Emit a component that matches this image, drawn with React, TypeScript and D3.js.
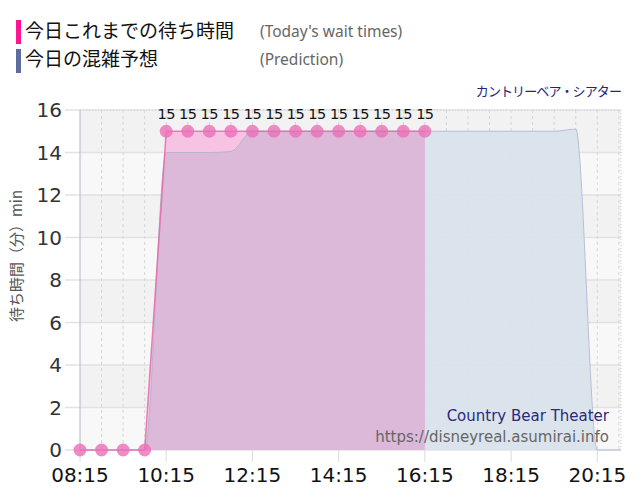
import React from "react";
import * as d3 from "d3";

const actualTimes = ["08:15","08:45","09:15","09:45","10:15","10:45","11:15","11:45","12:15","12:45","13:15","13:45","14:15","14:45","15:15","15:45","16:15"];
const actualValues = [0,0,0,0,15,15,15,15,15,15,15,15,15,15,15,15,15];

const predTimes = ["08:15","08:45","09:15","09:45","10:15","10:45","11:15","11:45","12:15","12:45","13:15","13:45","14:15","14:45","15:15","15:45","16:15","16:45","17:15","17:45","18:15","18:45","19:15","19:45","20:15","20:45","20:48"];
const predValues = [0,0,0,0,14,14,14,14.05,15,15,15,15,15,15,15,15,15,15,15,15,15,15,15,15.1,0,0,0];

const xTickLabels = ["08:15","10:15","12:15","14:15","16:15","18:15","20:15"];
const yTicks = [0,2,4,6,8,10,12,14,16];

const toMin = (s: string) => { const [h, m] = s.split(":").map(Number); return h * 60 + m; };

const W = 640, H = 500;
const L = 80, R = 621, T = 110, B = 450;

export default function App() {
  const x = d3.scaleLinear().domain([toMin("08:15"), toMin("20:48")]).range([L, R]);
  const y = d3.scaleLinear().domain([0, 16]).range([B, T]);

  const actual = actualTimes.map((t, i) => ({ t: toMin(t), v: actualValues[i] }));
  const pred = predTimes.map((t, i) => ({ t: toMin(t), v: predValues[i] }));

  const predArea = d3.area<{t:number;v:number}>().x(d => x(d.t)).y0(y(0)).y1(d => y(d.v)).curve(d3.curveMonotoneX)(pred) || "";
  const predLine = d3.line<{t:number;v:number}>().x(d => x(d.t)).y(d => y(d.v)).curve(d3.curveMonotoneX)(pred) || "";
  const actArea = d3.area<{t:number;v:number}>().x(d => x(d.t)).y0(y(0)).y1(d => y(d.v))(actual) || "";
  const actLine = d3.line<{t:number;v:number}>().x(d => x(d.t)).y(d => y(d.v))(actual) || "";

  const grid30: number[] = [];
  for (let m = toMin("08:15") + 30; m < toMin("20:48"); m += 30) grid30.push(m);

  const bands = d3.range(8).map(i => ({ lo: i * 2, hi: i * 2 + 2, dark: i % 2 === 1 }));

  const latin = "'DejaVu Sans', Verdana, sans-serif";
  const cjk = "'Noto Sans CJK JP', sans-serif";

  return (
    <svg width={W} height={H} style={{ position: "absolute", left: 0, top: 0, background: "#fff" }}>
      <defs>
        <clipPath id="predClip"><path d={predArea} /></clipPath>
      </defs>
      {/* Legend */}
      <rect x={16} y={20} width={5} height={24} fill="#ff1493" />
      <rect x={16} y={49} width={5} height={24} fill="#5b6e9e" />
      <text x={25} y={38} fontFamily={cjk} fontSize={19} fill="#111">今日これまでの待ち時間</text>
      <text x={25} y={66} fontFamily={cjk} fontSize={19} fill="#111">今日の混雑予想</text>
      <text x={260} y={37} fontFamily="'Noto Sans', sans-serif" fontSize={15.5} fill="#666">(Today's wait times)</text>
      <text x={260} y={65} fontFamily="'Noto Sans', sans-serif" fontSize={15.5} fill="#666">(Prediction)</text>
      <text x={621} y={96} textAnchor="end" fontFamily={cjk} fontSize={13} fill="#23237a" letterSpacing={-0.9}>カントリーベア・シアター</text>

      {/* Background bands */}
      {bands.map((b, i) => (
        <rect key={i} x={L} y={y(b.hi)} width={R - L} height={y(b.lo) - y(b.hi)} fill={b.dark ? "#f2f2f2" : "#f8f8f8"} />
      ))}
      {/* Horizontal grid */}
      {yTicks.map(v => (
        <line key={v} x1={65} x2={R} y1={y(v)} y2={y(v)} stroke="#e2e2e2" strokeWidth={1.5} />
      ))}
      {/* Vertical dashed grid */}
      {grid30.map(m => (
        <line key={m} x1={x(m)} x2={x(m)} y1={T} y2={B} stroke="#d6d6d6" strokeDasharray="3,3" />
      ))}
      {/* x tick marks */}
      {xTickLabels.map(s => (
        <line key={s} x1={x(toMin(s))} x2={x(toMin(s))} y1={B} y2={B + 12} stroke="#dcdcdc" />
      ))}
      <line x1={L} x2={R} y1={T} y2={T} stroke="#d0d0d0" strokeDasharray="1,2" />
      <line x1={R} x2={R} y1={T} y2={B} stroke="#d0d0d0" strokeDasharray="1,2" />
      <line x1={L} x2={L} y1={T} y2={B} stroke="#b4b4c0" />

      {/* Areas */}
      <path d={predArea} fill="#d9e3ec" opacity={0.95} />
      <path d={actArea} fill="#f5c1e0" opacity={0.95} />
      <path d={actArea} fill="#dcb8d9" clipPath="url(#predClip)" />
      <path d={predLine} fill="none" stroke="#a9b4cc" strokeWidth={1} opacity={0.8} />
      <path d={actLine} fill="none" stroke="#e860a8" strokeWidth={1.5} opacity={0.8} />

      {/* Dots */}
      {actual.map((d, i) => (
        <circle key={i} cx={x(d.t)} cy={y(d.v)} r={6.5} fill="#ec6fb6" opacity={0.8} />
      ))}
      {actual.filter(d => d.v > 0).map((d, i) => (
        <text key={i} x={x(d.t)} y={119} textAnchor="middle" fontFamily={latin} fontSize={14.5} fill="#111" letterSpacing={-0.5}>{d.v}</text>
      ))}

      {/* Y ticks */}
      {yTicks.map(v => (
        <text key={v} x={62} y={y(v) + 7} textAnchor="end" fontFamily={latin} fontSize={20} fill="#333">{v}</text>
      ))}
      {/* X ticks */}
      {xTickLabels.map(s => (
        <text key={s} x={x(toMin(s))} y={482} textAnchor="middle" fontFamily={latin} fontSize={20} fill="#111">{s}</text>
      ))}

      {/* Y label */}
      <text transform="translate(22,256) rotate(-90)" textAnchor="middle" fontFamily={cjk} fontSize={15} fill="#555">待ち時間（分）min</text>

      {/* Watermark */}
      <text x={609} y={421} textAnchor="end" fontFamily={latin} fontSize={15} fill="#2a2a7a">Country Bear Theater</text>
      <text x={609} y={442} textAnchor="end" fontFamily={latin} fontSize={15} fill="#666">https://disneyreal.asumirai.info</text>
    </svg>
  );
}
